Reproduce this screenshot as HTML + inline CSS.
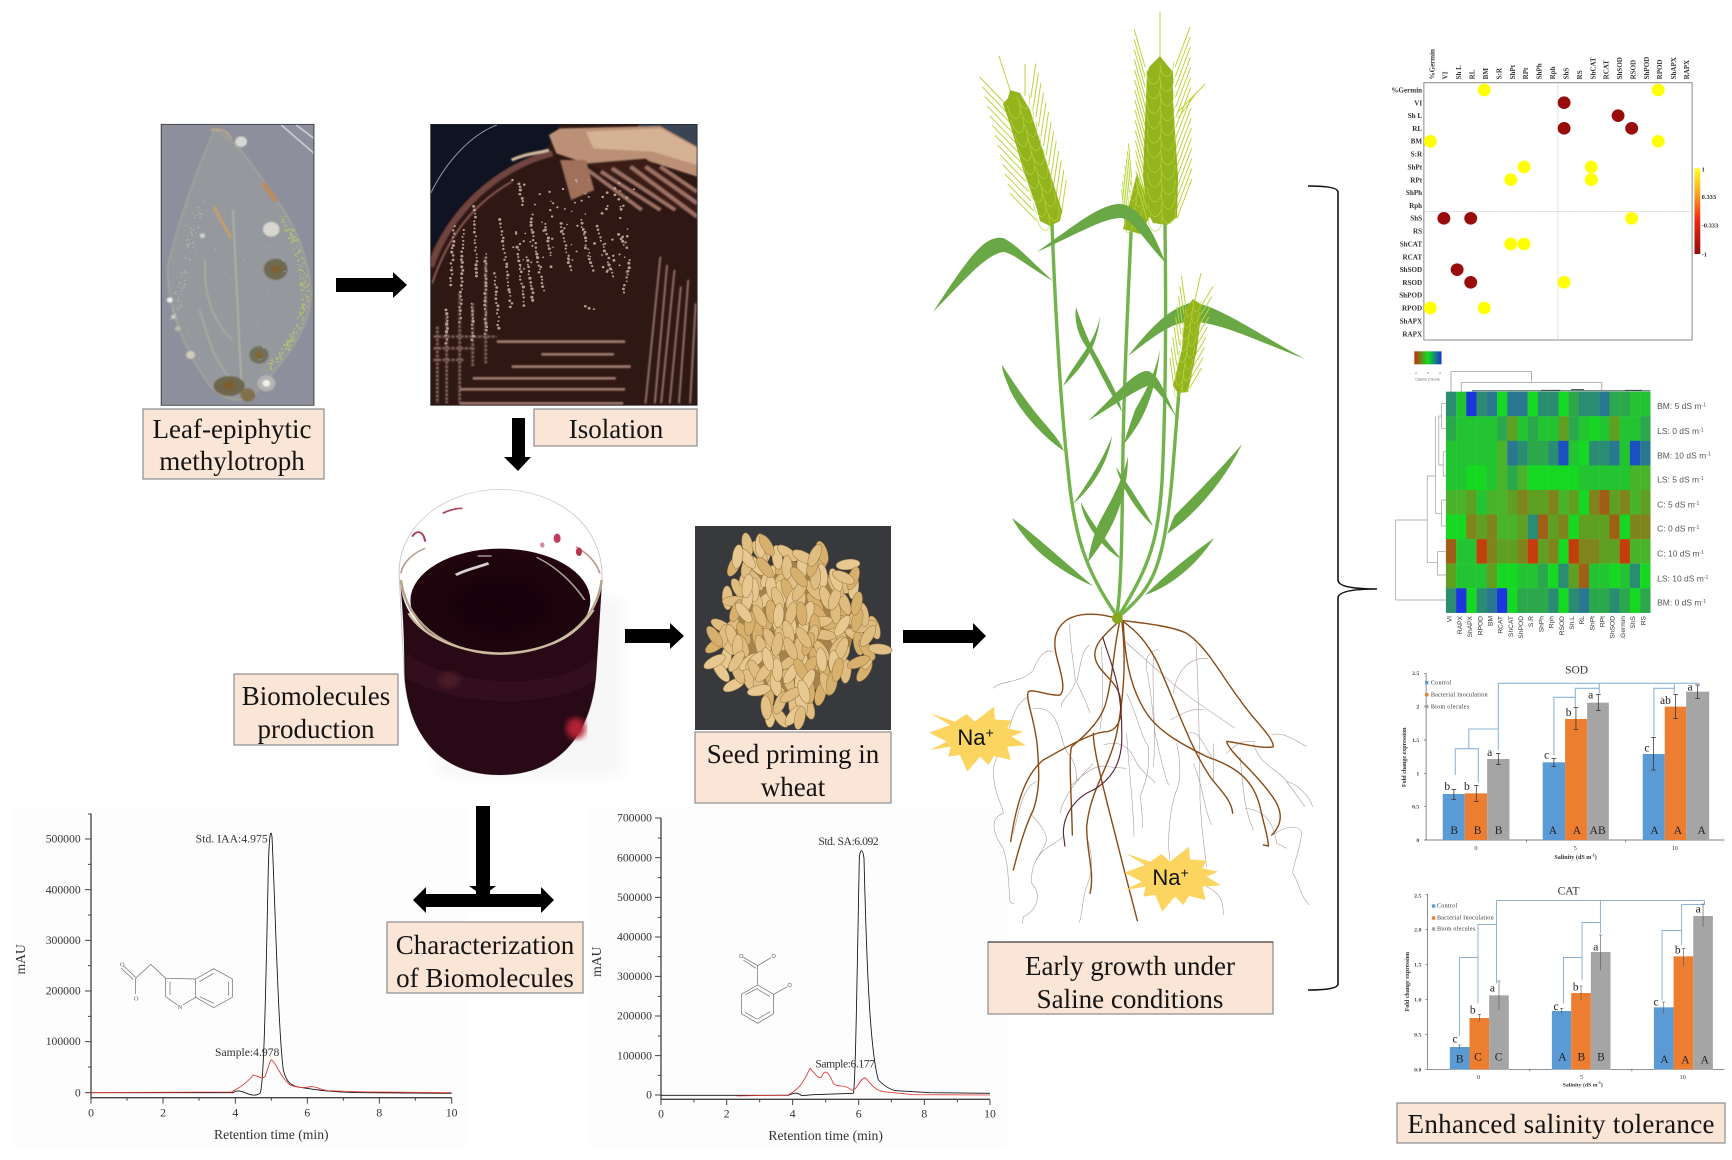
<!DOCTYPE html>
<html><head><meta charset="utf-8"><title>Biomolecules and salinity tolerance</title>
<style>
html,body{margin:0;padding:0;background:#fff;width:1732px;height:1160px;overflow:hidden}
svg{display:block;font-family:"Liberation Serif",serif}
.lb{fill:#fbe5d6;stroke:#8c8c8c;stroke-width:1.2}
.lt{font-size:27px;fill:#141414;text-anchor:middle}
.ax{font-size:35px;fill:#333}
.cr{font-size:21px;font-weight:bold;fill:#333;text-anchor:end}
.hb{font-family:"Liberation Sans",sans-serif;font-size:20px;fill:#333;text-anchor:end}
.hr{font-family:"Liberation Sans",sans-serif;font-size:25px;fill:#555}
.ul{font-size:34px;fill:#222}
.bl{font-size:34px;fill:#222;text-anchor:middle}
.tk{font-size:17px;font-weight:bold;fill:#444;text-anchor:end}
.lg{font-size:18px;fill:#333;letter-spacing:.8px}
.bd{font-size:18px;font-weight:bold;fill:#333;text-anchor:middle}
.na{font-family:"Liberation Sans",sans-serif;font-size:66px;fill:#111}
.th{fill:none;stroke:#a58f8f;stroke-width:1.6}
.tr{fill:none;stroke:#8a4a14;stroke-width:4.2;stroke-linecap:round}
.lf{fill:#69a845}
.st{fill:none;stroke:#73b34c;stroke-width:3.4;stroke-linecap:round}
.sm{fill:none;stroke:#6a6a6a;stroke-width:2}
</style></head><body>
<svg id="s" xmlns="http://www.w3.org/2000/svg" width="1732" height="1160" viewBox="0 0 1732 1160">
<defs>
<filter id="b1"><feGaussianBlur stdDeviation="2.4"/></filter>
<filter id="b0"><feGaussianBlur stdDeviation="1"/></filter>
<filter id="b2"><feGaussianBlur stdDeviation="8"/></filter>
<filter id="b3"><feGaussianBlur stdDeviation="20"/></filter>
<clipPath id="cl"><rect x="57" y="43" width="411" height="843"/></clipPath>
<clipPath id="cp"><rect x="782" y="43" width="717" height="843"/></clipPath>
<linearGradient id="cb" x1="0" y1="0" x2="0" y2="1"><stop offset="0" stop-color="#ffff20"/><stop offset=".3" stop-color="#ffa020"/><stop offset=".6" stop-color="#ee2a10"/><stop offset="1" stop-color="#8f0a0a"/></linearGradient>
<linearGradient id="ck"><stop offset="0" stop-color="#c82a10"/><stop offset=".5" stop-color="#10e020"/><stop offset="1" stop-color="#1a30d0"/></linearGradient>
<radialGradient id="liq" cx=".5" cy=".55" r=".6"><stop offset="0" stop-color="#16010a"/><stop offset=".8" stop-color="#1f040e"/><stop offset="1" stop-color="#2a0612"/></radialGradient>
<polygon id="star" fill="#fbd560" points="32,340 105,365 140,342 165,365 222,320 225,358 275,362 262,385 310,395 275,410 318,436 262,440 272,480 222,468 205,495 180,470 142,515 120,465 85,470 92,440 30,450 80,425 28,398 90,375"/>
</defs>

<!-- Chromatogram 1 -->
<g transform="translate(0,800) scale(.33333)">
<rect x="40" y="20" width="1360" height="1025" fill="#fdfdfd"/>
<path d="M273,40 V893 H1355" fill="none" stroke="#444" stroke-width="4"/>
<path d="M255,117 H273 M255,269 H273 M255,421 H273 M255,573 H273 M255,725 H273 M255,878 H273 M264,42 H273 M264,193 H273 M264,345 H273 M264,497 H273 M264,649 H273 M264,801 H273 M273,893 V911 M489,893 V911 M706,893 V911 M922,893 V911 M1138,893 V911 M1355,893 V911 M381,893 V902 M597,893 V902 M814,893 V902 M1030,893 V902 M1246,893 V902" stroke="#444" stroke-width="3" fill="none"/>
<g class="ax" text-anchor="end"><text x="242" y="128">500000</text><text x="242" y="280">400000</text><text x="242" y="432">300000</text><text x="242" y="584">200000</text><text x="242" y="735">100000</text><text x="242" y="889">0</text></g>
<g class="ax" text-anchor="middle"><text x="273" y="950">0</text><text x="489" y="950">2</text><text x="706" y="950">4</text><text x="922" y="950">6</text><text x="1138" y="950">8</text><text x="1355" y="950">10</text></g>
<text x="814" y="1017" font-size="41" fill="#333" text-anchor="middle">Retention time (min)</text>
<text transform="translate(75,478) rotate(-90)" font-size="41" fill="#333" text-anchor="middle">mAU</text>
<path d="M273,878 L700,878 C710,870 720,872 735,878 C750,884 765,890 780,880 C790,860 795,700 805,200 C808,100 812,85 816,110 C825,300 835,700 850,810 C860,850 875,858 900,862 C950,870 1000,878 1100,878 L1355,880" fill="none" stroke="#111" stroke-width="2.6"/>
<path d="M273,878 L695,876 C710,866 730,860 760,825 C770,825 785,840 795,830 C803,810 810,778 815,780 C830,790 840,830 870,855 C890,863 915,865 930,860 C950,858 960,870 985,872 L1100,876 L1355,878" fill="none" stroke="#e03838" stroke-width="2.6"/>
<text class="ax" x="587" y="128" textLength="216">Std. IAA:4.975</text>
<text class="ax" x="645" y="768" textLength="193">Sample:4.978</text>
<path class="sm" d="M370,497 L407,532 M363,504 L400,539 M407,535 V582 M407,535 L452,493 L497,535 V590 L532,615 M548,615 L587,592 V537 L497,535 M587,537 L641,506 L697,537 V592 L641,623 L587,592 M510,545 V585 M598,545 L641,520 M686,545 V587 M600,590 L641,610"/>
<text x="360" y="500" font-size="19" fill="#555">O</text><text x="402" y="602" font-size="19" fill="#555">O</text><text x="533" y="627" font-size="19" fill="#555">N</text>
</g>

<!-- Chromatogram 2 -->
<g transform="translate(580,800) scale(.33333)">
<rect x="30" y="20" width="1250" height="1025" fill="#fdfdfd"/>
<path d="M243,54 V898 H1230" fill="none" stroke="#444" stroke-width="4"/>
<path d="M225,54 H243 M225,173 H243 M225,292 H243 M225,411 H243 M225,529 H243 M225,648 H243 M225,767 H243 M225,885 H243 M234,114 H243 M234,233 H243 M234,352 H243 M234,470 H243 M234,589 H243 M234,708 H243 M234,826 H243 M243,898 V915 M440,898 V915 M638,898 V915 M836,898 V915 M1033,898 V915 M1230,898 V915 M342,898 V907 M539,898 V907 M737,898 V907 M934,898 V907 M1132,898 V907" stroke="#444" stroke-width="3" fill="none"/>
<g class="ax" text-anchor="end"><text x="216" y="65">700000</text><text x="216" y="184">600000</text><text x="216" y="303">500000</text><text x="216" y="422">400000</text><text x="216" y="540">300000</text><text x="216" y="659">200000</text><text x="216" y="778">100000</text><text x="216" y="896">0</text></g>
<g class="ax" text-anchor="middle"><text x="243" y="952">0</text><text x="440" y="952">2</text><text x="638" y="952">4</text><text x="836" y="952">6</text><text x="1033" y="952">8</text><text x="1230" y="952">10</text></g>
<text x="737" y="1020" font-size="41" fill="#333" text-anchor="middle">Retention time (min)</text>
<text transform="translate(63,485) rotate(-90)" font-size="41" fill="#333" text-anchor="middle">mAU</text>
<path d="M243,886 L625,886 C640,880 650,875 665,887 L700,884 L820,880 C826,860 830,600 838,170 C842,145 848,145 852,175 C860,500 870,750 895,840 C910,855 930,870 950,872 L1050,878 L1230,880" fill="none" stroke="#111" stroke-width="2.6"/>
<path d="M470,888 L625,885 C650,870 665,860 690,805 C705,820 715,840 725,830 C735,805 745,815 760,850 C775,865 790,850 815,870 C830,875 835,840 855,833 C870,845 880,870 910,875 L1000,884 L1230,885" fill="none" stroke="#e03838" stroke-width="2.6"/>
<text class="ax" x="715" y="135" textLength="181">Std. SA:6.092</text>
<text class="ax" x="706" y="802" textLength="179">Sample:6.177</text>
<path class="sm" d="M533,555 L581,583 V641 L533,670 L484,641 V583 Z M533,568 L570,590 M570,635 L533,657 M495,585 L533,565 M533,555 V497 M533,497 L490,472 M528,505 L490,480 M533,497 L573,473 M581,583 L622,560 M495,637 L530,657"/>
<g fill="none" stroke="#777" stroke-width="2"><circle cx="484" cy="468" r="5"/><circle cx="581" cy="468" r="5"/><circle cx="629" cy="555" r="5"/></g>
</g>

<!-- Leaf photo -->
<g transform="translate(140,110) scale(.3717,.3333)">
<g clip-path="url(#cl)">
<rect x="57" y="43" width="411" height="843" fill="#8d909c"/>
<path d="M380,45 L468,130 M420,45 L468,85" stroke="#c9ccd4" stroke-width="5" fill="none" filter="url(#b0)"/>
<g filter="url(#b1)">
<path d="M200,60 C270,90 340,230 380,290 C430,370 460,480 460,560 C450,680 380,760 310,850 C280,880 240,880 190,830 C130,740 70,600 75,470 C100,340 160,160 200,60Z" fill="#95989c" stroke="#a4a69e" stroke-width="4"/>
<path d="M250,300 L275,870" stroke="#b4b7a8" stroke-width="4"/>
<path d="M200,290 C210,320 230,350 245,385" stroke="#c49e68" stroke-width="8" fill="none"/>
<path d="M330,220 C345,240 360,260 365,275" stroke="#b98c62" stroke-width="14" fill="none"/>
<path d="M190,60 C210,55 235,60 245,85" stroke="#c0a880" stroke-width="6" fill="none"/>
<path d="M175,450 C170,560 200,640 250,690 M160,600 C180,660 190,740 240,800" stroke="#a8aca2" stroke-width="5" fill="none"/>
<circle cx="353" cy="358" r="22" fill="#d8d6ce"/><circle cx="272" cy="95" r="16" fill="#d8d8d2"/>
<circle cx="365" cy="478" r="32" fill="#6e6a52"/><circle cx="365" cy="478" r="13" fill="#80602f"/>
<circle cx="320" cy="735" r="26" fill="#71705c"/><circle cx="320" cy="735" r="12" fill="#80683a"/>
<ellipse cx="240" cy="828" rx="42" ry="30" fill="#6e664e"/><circle cx="240" cy="826" r="14" fill="#7e5f2c"/>
<ellipse cx="290" cy="855" rx="20" ry="20" fill="#80704c"/>
<circle cx="340" cy="820" r="24" fill="#b4b4b4"/><circle cx="340" cy="820" r="10" fill="#f2f2ea"/>
<circle cx="136" cy="735" r="12" fill="#d0ccbc"/><circle cx="80" cy="570" r="8" fill="#f0f0ea"/><circle cx="90" cy="620" r="6" fill="#e0e0d8"/><circle cx="102" cy="656" r="8" fill="#b6b9ae"/><circle cx="168" cy="377" r="7" fill="#d2d4ca"/>
</g>
<g id="lsp" filter="url(#b0)"></g>
</g>
<rect x="57" y="43" width="411" height="843" fill="none" stroke="#333" stroke-width="2.4"/>
</g>

<!-- Petri photo -->
<g transform="translate(140,110) scale(.3717,.3333)">
<g clip-path="url(#cp)">
<rect x="782" y="43" width="717" height="843" fill="#2f1814"/>
<path d="M782,43 H1130 L1090,125 C960,170 850,270 782,430 Z" fill="#0f1322"/>
<path d="M1499,43 H1340 V60 L1499,130 Z" fill="#3a4452"/>
<path d="M782,250 C830,140 900,70 960,45" fill="none" stroke="#8a93a5" stroke-width="3"/>
<g filter="url(#b1)">
<path d="M782,470 C830,310 960,170 1110,130" fill="none" stroke="#6f4440" stroke-width="18"/>
<path d="M786,520 C840,340 930,260 1000,215" fill="none" stroke="#8f5f58" stroke-width="5"/>
<path d="M1000,150 C1040,130 1070,130 1100,120" fill="none" stroke="#d8c0a0" stroke-width="9"/>
<polygon points="1100,75 1130,55 1400,48 1499,110 1499,200 1360,150 1200,160 1120,130" fill="#bb9077"/>
<polygon points="1200,65 1400,55 1499,115 1499,165 1380,125 1220,115" fill="#d6b294"/>
<polygon points="1130,150 1200,150 1222,240 1160,270" fill="#a0705a"/>
<polygon points="1200,160 1360,145 1499,250 1499,330 1400,260" fill="#3a1c14"/>
<path d="M1205,180 L1350,300 M1240,185 L1400,300 M1270,175 L1440,300 M1320,170 L1499,320 M1360,170 L1499,280 M1400,170 L1499,245" stroke="#9c6f64" stroke-width="11" fill="none"/>
<path d="M960,695 H1305 M1080,733 H1275 M1000,770 H1320 M895,805 H1280 M860,838 H1305 M860,880 H1300" stroke="#a07b70" stroke-width="8" fill="none"/>
<path d="M1400,440 L1360,880 M1418,465 L1385,880 M1438,480 L1402,880 M1455,530 L1425,880 M1475,510 L1450,880 M1495,580 L1480,880" stroke="#9a766a" stroke-width="5" fill="none"/>
<path d="M800,650 V880 M825,610 V880 M860,550 V880 M895,580 V770 M930,440 V760 M790,680 H960 M790,715 H900 M790,750 H870" stroke="#8a6a62" stroke-width="7" stroke-dasharray="8 4" fill="none"/>
</g>
<g id="col" filter="url(#b0)"></g>
</g>
<rect x="782" y="43" width="717" height="843" fill="none" stroke="#222" stroke-width="2"/>
</g>

<!-- Beaker -->
<g transform="translate(220,480) scale(.4367,.3333)">
<rect x="500" y="350" width="420" height="540" fill="#f7f6f6" filter="url(#b3)"/>
<path d="M410,280 C410,130 520,30 640,28 C770,30 875,130 875,290 L862,560 C860,720 800,885 640,885 C490,885 430,740 422,590 Z" fill="#fff" stroke="#c4c4c4" stroke-width="2"/>
<path d="M412,300 C425,470 420,560 424,610 C436,760 500,885 640,885 C790,885 855,740 862,570 L875,300 C860,460 760,520 640,522 C520,520 420,450 412,300Z" fill="#2a0916"/>
<ellipse cx="642" cy="362" rx="206" ry="156" fill="url(#liq)"/>
<path d="M414,300 C430,450 540,522 640,522 C750,522 860,450 874,300" fill="none" stroke="#b8a58c" stroke-width="6"/>
<path d="M432,400 C470,480 560,518 640,520 C730,518 810,480 855,390" fill="none" stroke="#cdbc9f" stroke-width="6"/>
<path d="M414,280 C420,240 450,215 470,205 M870,280 C860,240 835,215 815,200" fill="none" stroke="#b89a90" stroke-width="4"/>
<path d="M430,520 C520,620 780,640 862,530 L860,600 C760,690 520,680 425,590Z" fill="#3a1424" opacity=".6"/>
<path d="M725,232 C770,260 810,310 835,360" fill="none" stroke="#a9a0a0" stroke-width="4"/>
<path d="M540,285 C560,270 590,262 615,250" fill="none" stroke="#d9d0d0" stroke-width="8"/>
<path d="M590,228 H622" stroke="#aaa" stroke-width="4"/>
<path d="M510,100 C525,90 540,85 555,85 M440,170 C450,150 465,150 470,185" fill="none" stroke="#b04058" stroke-width="5"/>
<ellipse cx="772" cy="175" rx="8" ry="14" fill="#c03c58"/><ellipse cx="822" cy="215" rx="7" ry="13" fill="#b83850"/><ellipse cx="738" cy="195" rx="5" ry="8" fill="#d88a98"/>
<ellipse cx="815" cy="745" rx="22" ry="32" fill="#b32030" filter="url(#b2)"/>
<circle cx="525" cy="600" r="24" fill="#4a1a28" filter="url(#b2)"/>
</g>

<!-- Seeds -->
<rect x="695" y="526" width="196" height="204" fill="#37393d"/>
<ellipse cx="793" cy="628" rx="60" ry="66" fill="#a8824c"/>
<g id="seeds"></g>

<!-- Arrows -->
<g fill="#000">
<polygon points="336,278 393,278 393,272 407,285 393,298 393,292 336,292"/>
<polygon points="512,418 525,418 525,457 531,457 518,471 504,457 512,457"/>
<polygon points="625,629 670,629 670,623 684,636 670,649 670,643 625,643"/>
<polygon points="903,630 973,630 973,623 986,636 973,649 973,643 903,643"/>
<rect x="476" y="806" width="14" height="90"/>
<polygon points="469,886 496,886 483,896"/>
<polygon points="413,900 426,887 426,894 541,894 541,887 554,900 541,913 541,907 426,907 426,913"/>
</g>

<!-- Labels -->
<rect class="lb" x="143" y="409" width="181" height="70"/>
<text class="lt" x="232" y="438">Leaf-epiphytic</text><text class="lt" x="232" y="470">methylotroph</text>
<rect class="lb" x="534" y="409" width="163" height="37"/>
<text class="lt" x="616" y="438">Isolation</text>
<rect class="lb" x="234" y="674" width="164" height="71"/>
<text class="lt" x="316" y="705">Biomolecules</text><text class="lt" x="316" y="738">production</text>
<rect class="lb" x="695" y="732" width="196" height="71"/>
<text class="lt" x="793" y="763">Seed priming in</text><text class="lt" x="793" y="796">wheat</text>
<rect class="lb" x="387" y="922" width="196" height="71"/>
<text class="lt" x="485" y="954">Characterization</text><text class="lt" x="485" y="987">of Biomolecules</text>
<rect class="lb" x="988" y="942" width="285" height="72"/>
<path d="M988,942 H1273" stroke="#222" stroke-width="1"/>
<text class="lt" x="1130" y="975">Early growth under</text><text class="lt" x="1130" y="1008">Saline conditions</text>
<rect class="lb" x="1397" y="1103" width="328" height="40"/>
<text class="lt" x="1561" y="1133" textLength="307" lengthAdjust="spacing">Enhanced salinity tolerance</text>

<!-- Plant -->
<g id="spk0"></g>
<path class="st" d="M1131,233 C1128,300 1124,380 1123,450 C1122,520 1122,580 1117,616"/>
<path class="st" d="M1052,225 C1055,300 1060,400 1068,470 C1074,535 1085,570 1117,616"/>
<path class="st" d="M1165,225 C1166,300 1166,400 1162,482 C1158,540 1150,565 1120,614"/>
<path class="st" d="M1179,392 C1174,450 1172,490 1167,520 C1160,570 1150,590 1122,614"/>
<g class="lf">
<path d="M1053,281 C1030,260 1015,243 1003,238 C985,235 970,255 933,312 C965,280 985,255 1003,252 C1012,252 1030,268 1053,281Z"/>
<path d="M1128,356 C1145,335 1165,310 1190,303 C1210,300 1260,335 1305,359 C1260,342 1215,320 1190,322 C1170,322 1150,340 1128,356Z"/>
<path d="M1063,386 C1085,365 1098,345 1100,316 C1095,345 1075,360 1063,386Z"/>
<path d="M1122,412 C1105,385 1092,355 1085,345 C1078,335 1074,320 1076,307 C1082,325 1090,345 1098,358 C1108,378 1118,392 1122,412Z"/>
<path d="M1064,451 C1040,435 1015,405 1008,385 C1005,378 1002,370 1002,365 C1012,380 1025,400 1040,418 C1050,430 1060,440 1064,451Z"/>
<path d="M1177,418 C1165,395 1160,375 1148,371 C1135,370 1115,395 1088,421 C1110,408 1135,390 1150,385 C1158,390 1168,405 1177,418Z"/>
<path d="M1124,444 C1140,425 1155,400 1160,349 C1155,375 1145,392 1135,410 C1130,425 1126,435 1124,444Z"/>
<path d="M1073,504 C1090,490 1108,465 1112,436 C1105,455 1090,480 1073,504Z"/>
<path d="M1088,562 C1110,535 1128,500 1128,456 C1122,485 1105,510 1098,525 C1092,540 1090,550 1088,562Z"/>
<path d="M1116,467 C1122,490 1140,515 1153,526 C1142,505 1130,488 1116,467Z"/>
<path d="M1081,502 C1083,525 1105,550 1121,559 C1107,540 1092,525 1081,502Z"/>
<path d="M1093,586 C1060,572 1028,548 1012,518 C1035,535 1060,558 1093,586Z"/>
<path d="M1167,534 C1195,515 1225,480 1242,444 C1220,470 1190,500 1175,515 C1172,520 1170,528 1167,534Z"/>
<path d="M1145,595 C1175,585 1200,560 1214,538 C1190,555 1165,575 1145,595Z"/>
</g>
<g id="spk1"></g>
<path class="lf" d="M1165,262 C1155,235 1140,205 1120,204 C1100,204 1075,225 1037,252 C1075,235 1105,217 1122,218 C1135,222 1150,248 1165,262Z"/>
<g id="spk2"></g>
<!-- Roots -->
<g transform="translate(920,600) scale(.33333)">
<path class="th" d="M220,265 C240,240 310,250 340,210 C355,170 375,145 400,155 M450,70 C445,120 470,230 465,250 C450,290 420,300 425,320 M510,135 C480,150 480,220 470,245 C490,290 505,320 510,340 M545,140 C545,200 555,280 540,390 M325,290 C290,310 280,340 270,380 C240,450 220,490 220,510 C220,580 250,620 250,640 C220,650 210,680 240,730 C265,760 265,850 270,905 L282,912 M340,325 C400,320 410,360 430,430 C440,470 470,470 470,540 M350,545 C310,560 300,620 280,700 M330,640 C360,670 380,700 380,720 C370,760 330,780 335,850 C365,880 355,930 310,950 L307,972 M430,710 C400,735 370,745 355,770 M500,710 C520,770 520,810 500,860 C485,900 490,930 478,968 M610,120 C680,180 760,260 850,320 L945,385 M828,130 C835,250 840,500 840,600 C845,700 855,760 860,800 M715,148 C680,155 675,180 680,210 C700,300 700,400 710,420 C720,470 740,550 748,556 M700,170 C695,300 710,390 700,500 M620,280 C650,340 660,400 685,440 C690,500 680,540 660,590 C670,640 665,670 668,685 M620,400 C625,500 640,600 642,710 M550,435 C600,420 630,440 650,490 C670,520 690,530 705,548 M450,560 C490,520 530,490 560,500 L620,505 M420,640 C430,590 470,540 520,490 M760,280 C770,210 810,170 865,175 M750,360 C790,340 810,325 850,328 M770,430 C785,500 780,550 770,570 C750,620 740,720 750,780 M800,400 C840,390 840,420 875,470 M880,430 V540 M1055,405 C1080,395 1110,410 1160,440 M1000,430 C1020,500 1080,510 1100,545 C1130,550 1170,590 1178,620 M920,460 C950,430 970,420 1005,425 M960,470 C970,560 970,620 1000,690 M975,625 C1030,630 1060,660 1070,730 L1100,745 M1060,705 C1090,680 1140,670 1145,700 C1140,750 1120,790 1118,820 C1140,850 1135,880 1168,915 M860,860 C900,880 910,900 910,945 M820,490 C850,560 850,620 875,675 M1100,545 L1155,620"/>
<path class="tr" d="M590,55 C540,40 480,35 440,60 C400,90 400,130 410,170 C420,210 440,270 420,285 C390,290 340,265 325,275 C315,295 345,360 352,440 C358,520 360,570 340,630 C315,680 295,750 280,810"/>
<path class="tr" d="M590,70 C560,100 520,130 525,170 C530,215 590,240 600,290 C610,340 600,390 560,395 C520,395 440,440 370,480 C320,520 290,600 272,725"/>
<path class="tr" d="M600,60 C580,150 580,220 560,300 C550,350 510,395 455,440 C445,470 455,600 457,705"/>
<path class="tr" d="M605,60 C620,180 610,300 590,400 C570,500 510,570 500,680 C500,760 525,820 510,880"/>
<path class="tr" d="M610,70 C615,200 640,280 680,340 C720,400 800,440 860,470 C950,500 1000,540 1020,620 C1030,670 1045,710 1045,738 L1030,735"/>
<path class="tr" d="M610,65 C660,100 700,150 730,230 C770,320 810,440 870,530 C900,570 935,600 938,640"/>
<path class="tr" d="M610,62 C680,70 760,80 800,100 C860,140 900,220 960,300 C1000,360 1060,410 1060,440 C1030,450 920,420 920,425 C930,460 1000,510 1050,580 C1090,630 1090,670 1055,705"/>
<path class="tr" d="M520,400 C520,460 560,600 610,800 L652,962"/>
<path d="M548,110 C570,190 610,250 605,430 C600,500 570,540 520,570 C470,590 430,640 430,700 L435,740" fill="none" stroke="#5a2030" stroke-width="3.4"/>
<circle cx="592" cy="55" r="16" fill="#86a81c"/>
<use href="#star"/><use href="#star" x="585" y="420"/>
<text class="na" x="112" y="435">Na</text><text class="na" x="197" y="412" style="font-size:42px">+</text>
<text class="na" x="697" y="855">Na</text><text class="na" x="782" y="832" style="font-size:42px">+</text>
</g>
<!-- Brace -->
<path d="M1308,186 Q1338,186 1338,192 L1338,580 Q1338,589 1377,589 Q1338,589 1338,598 L1338,984 Q1338,990 1308,990" fill="none" stroke="#111" stroke-width="1.6"/>

<!-- Correlation plot -->
<g transform="translate(1360,30) scale(.3396,.33333)">
<rect x="188" y="158" width="790" height="772" fill="#fff" stroke="#999" stroke-width="3.4"/>
<path d="M583,158 V930 M188,545 H978" stroke="#bbb" stroke-width="2" stroke-dasharray="3 2"/>
<g fill="#ffff00"><circle cx="366" cy="180" r="19"/><circle cx="878" cy="180" r="19"/><circle cx="207" cy="334" r="19"/><circle cx="878" cy="334" r="19"/><circle cx="483" cy="411" r="19"/><circle cx="681" cy="411" r="19"/><circle cx="444" cy="449" r="19"/><circle cx="681" cy="449" r="19"/><circle cx="800" cy="565" r="19"/><circle cx="444" cy="642" r="19"/><circle cx="483" cy="642" r="19"/><circle cx="601" cy="757" r="19"/><circle cx="207" cy="834" r="19"/><circle cx="366" cy="834" r="19"/></g>
<g fill="#990c0c"><circle cx="601" cy="218" r="19"/><circle cx="760" cy="257" r="19"/><circle cx="601" cy="295" r="19"/><circle cx="800" cy="295" r="19"/><circle cx="247" cy="565" r="19"/><circle cx="326" cy="565" r="19"/><circle cx="286" cy="719" r="19"/><circle cx="326" cy="757" r="19"/></g>
<g class="cr"><text x="183" y="187">%Germin</text><text x="183" y="226">VI</text><text x="183" y="264">Sh L</text><text x="183" y="303">RL</text><text x="183" y="341">BM</text><text x="183" y="380">S:R</text><text x="183" y="418">ShPt</text><text x="183" y="457">RPt</text><text x="183" y="495">ShPh</text><text x="183" y="534">Rph</text><text x="183" y="572">ShS</text><text x="183" y="611">RS</text><text x="183" y="649">ShCAT</text><text x="183" y="688">RCAT</text><text x="183" y="726">ShSOD</text><text x="183" y="765">RSOD</text><text x="183" y="803">ShPOD</text><text x="183" y="842">RPOD</text><text x="183" y="880">ShAPX</text><text x="183" y="919">RAPX</text></g>
<g class="cr" style="text-anchor:start">
<text transform="translate(219,148) rotate(-90)">%Germin</text><text transform="translate(258,148) rotate(-90)">VI</text><text transform="translate(298,148) rotate(-90)">Sh L</text><text transform="translate(337,148) rotate(-90)">RL</text><text transform="translate(377,148) rotate(-90)">BM</text><text transform="translate(416,148) rotate(-90)">S:R</text><text transform="translate(456,148) rotate(-90)">ShPt</text><text transform="translate(495,148) rotate(-90)">RPt</text><text transform="translate(535,148) rotate(-90)">ShPh</text><text transform="translate(574,148) rotate(-90)">Rph</text><text transform="translate(614,148) rotate(-90)">ShS</text><text transform="translate(653,148) rotate(-90)">RS</text><text transform="translate(693,148) rotate(-90)">ShCAT</text><text transform="translate(732,148) rotate(-90)">RCAT</text><text transform="translate(772,148) rotate(-90)">ShSOD</text><text transform="translate(811,148) rotate(-90)">RSOD</text><text transform="translate(851,148) rotate(-90)">ShPOD</text><text transform="translate(890,148) rotate(-90)">RPOD</text><text transform="translate(930,148) rotate(-90)">ShAPX</text><text transform="translate(969,148) rotate(-90)">RAPX</text>
</g>
<rect x="985" y="415" width="17" height="257" fill="url(#cb)"/>
<g font-size="19" font-weight="bold" fill="#333"><text x="1006" y="424">1</text><text x="1006" y="507">0.333</text><text x="1006" y="593">-0.333</text><text x="1006" y="680">-1</text></g>
</g>

<!-- Heatmap -->
<g transform="translate(1360,340) scale(.3396,.33333)">
<rect x="160" y="34" width="80" height="39" fill="url(#ck)"/>
<text x="199" y="102" font-family="Liberation Sans" font-size="9" fill="#555" text-anchor="middle" letter-spacing="14">-2 0 2</text>
<text x="199" y="121" font-family="Liberation Sans" font-size="10" fill="#555" text-anchor="middle">Column Z-Score</text>
<path d="M268,155 V95 H505 V125 M298,155 V128 H712 V155" fill="none" stroke="#888" stroke-width="2"/>
<path d="M330,152 H855" stroke="#708a80" stroke-width="4"/>
<path d="M533,151 H590 M622,149 H660 M780,151 H830" stroke="#344" stroke-width="3"/>
<g id="hm" filter="url(#b0)"></g>
<path d="M105,780 H253 M105,780 V540 H198 M198,408 V668 H228 M198,408 H222 M222,228 V520 H240 M228,635 V705 H253 M228,635 H253 M240,480 V558 H253 M240,480 H253 M232,228 V375 H245 M232,228 H240 M240,190 V265 H253 M240,190 H253 M245,335 V408 H253 M245,335 H253" fill="none" stroke="#999" stroke-width="2"/>
<g class="hr"><text x="875" y="207">BM: 5 dS m<tspan dy="-8" font-size="15">-1</tspan></text><text x="875" y="282">LS: 0 dS m<tspan dy="-8" font-size="15">-1</tspan></text><text x="875" y="355">BM: 10 dS m<tspan dy="-8" font-size="15">-1</tspan></text><text x="875" y="428">LS: 5 dS m<tspan dy="-8" font-size="15">-1</tspan></text><text x="875" y="503">C: 5 dS m<tspan dy="-8" font-size="15">-1</tspan></text><text x="875" y="575">C: 0 dS m<tspan dy="-8" font-size="15">-1</tspan></text><text x="875" y="650">C: 10 dS m<tspan dy="-8" font-size="15">-1</tspan></text><text x="875" y="725">LS: 10 dS m<tspan dy="-8" font-size="15">-1</tspan></text><text x="875" y="797">BM: 0 dS m<tspan dy="-8" font-size="15">-1</tspan></text></g>
<g class="hb">
<text transform="translate(270,828) rotate(-90)">VI</text><text transform="translate(300,828) rotate(-90)">RAPX</text><text transform="translate(330,828) rotate(-90)">ShAPX</text><text transform="translate(360,828) rotate(-90)">RPOD</text><text transform="translate(390,828) rotate(-90)">BM</text><text transform="translate(420,828) rotate(-90)">RCAT</text><text transform="translate(450,828) rotate(-90)">ShCAT</text><text transform="translate(480,828) rotate(-90)">ShPOD</text><text transform="translate(510,828) rotate(-90)">S.R</text><text transform="translate(540,828) rotate(-90)">ShPh</text><text transform="translate(570,828) rotate(-90)">Rph</text><text transform="translate(600,828) rotate(-90)">RSOD</text><text transform="translate(630,828) rotate(-90)">Sh.L</text><text transform="translate(660,828) rotate(-90)">RL</text><text transform="translate(690,828) rotate(-90)">ShPt</text><text transform="translate(720,828) rotate(-90)">RPt</text><text transform="translate(750,828) rotate(-90)">ShSOD</text><text transform="translate(780,828) rotate(-90)">.Germin</text><text transform="translate(810,828) rotate(-90)">ShS</text><text transform="translate(840,828) rotate(-90)">RS</text>
</g>
</g>

<!-- SOD -->
<g transform="translate(1380,660) scale(.339,.33333)">
<path d="M136,40 V540 H1016 M130,40 H136 M130,140 H136 M130,240 H136 M130,340 H136 M130,440 H136 M130,540 H136 M432,540 V547 M725,540 V547" fill="none" stroke="#555" stroke-width="2"/>
<g fill="#5b9bd5"><rect x="185" y="402" width="65" height="138"/><rect x="480" y="307" width="66" height="233"/><rect x="775" y="282" width="65" height="258"/><rect x="133" y="63" width="10" height="10"/></g>
<g fill="#ed7d31"><rect x="250" y="400" width="66" height="140"/><rect x="546" y="177" width="65" height="363"/><rect x="840" y="140" width="63" height="400"/><rect x="133" y="99" width="10" height="10"/></g>
<g fill="#a5a5a5"><rect x="316" y="297" width="66" height="243"/><rect x="611" y="128" width="64" height="412"/><rect x="903" y="95" width="68" height="445"/><rect x="133" y="135" width="10" height="10"/></g>
<path d="M222,345 V266 H290 V368 M262,266 V207 H349 V270 M349,207 V70 H942 M513,285 V112 H576 M576,143 V85 H647 M647,70 V100 M808,230 V85 H868 M868,100 V72" fill="none" stroke="#8db4dc" stroke-width="3.2"/>
<path d="M218,388 V418 M211,388 H225 M211,418 H225 M284,376 V424 M277,376 H291 M277,424 H291 M349,280 V314 M342,280 H356 M342,314 H356 M513,295 V320 M506,295 H520 M506,320 H520 M578,143 V208 M571,143 H585 M571,208 H585 M644,103 V152 M637,103 H651 M637,152 H651 M807,232 V330 M800,232 H814 M800,330 H814 M872,103 V176 M865,103 H879 M865,176 H879 M937,75 V116 M930,75 H944 M930,116 H944" stroke="#333" stroke-width="2.2" fill="none"/>
<g class="tk"><text x="116" y="45">2.5</text><text x="116" y="146">2</text><text x="116" y="246">1.5</text><text x="116" y="346">1</text><text x="116" y="446">0.5</text><text x="116" y="546">0</text></g>
<g class="ul"><text x="190" y="390">b</text><text x="248" y="390">b</text><text x="316" y="288">a</text><text x="484" y="296">c</text><text x="548" y="168">b</text><text x="614" y="116">a</text><text x="780" y="275">c</text><text x="826" y="132">ab</text><text x="907" y="92">a</text></g>
<g class="bl"><text x="219" y="522">B</text><text x="288" y="522">B</text><text x="350" y="522">B</text><text x="510" y="522">A</text><text x="581" y="522">A</text><text x="642" y="522">AB</text><text x="810" y="522">A</text><text x="879" y="522">A</text><text x="949" y="522">A</text></g>
<text x="580" y="40" font-size="34" fill="#333" text-anchor="middle">SOD</text>
<text class="lg" x="150" y="74">Control</text><text class="lg" x="150" y="110">Bacterial Inoculation</text><text class="lg" x="150" y="146">Biom olecules</text>
<g class="bd" style="font-weight:normal"><text x="283" y="570">0</text><text x="576" y="570">5</text><text x="870" y="570">10</text></g>
<text class="bd" x="577" y="597">Salinity (dS m<tspan dy="-7" font-size="12">-1</tspan><tspan dy="7">)</tspan></text>
<text class="bd" transform="translate(76,292) rotate(-90)">Fold change expression</text>
</g>

<!-- CAT -->
<g transform="translate(1380,880) scale(.339,.33333)">
<path d="M140,43 V568 H1016 M134,43 H140 M134,148 H140 M134,253 H140 M134,358 H140 M134,463 H140 M134,568 H140 M442,568 V574 M743,568 V574" fill="none" stroke="#555" stroke-width="2"/>
<g fill="#5b9bd5"><rect x="206" y="501" width="58" height="67"/><rect x="507" y="393" width="57" height="175"/><rect x="808" y="382" width="58" height="186"/><rect x="153" y="73" width="10" height="10"/></g>
<g fill="#ed7d31"><rect x="264" y="414" width="58" height="154"/><rect x="564" y="339" width="58" height="229"/><rect x="866" y="229" width="58" height="339"/><rect x="153" y="109" width="10" height="10"/></g>
<g fill="#a5a5a5"><rect x="322" y="346" width="58" height="222"/><rect x="622" y="216" width="58" height="352"/><rect x="924" y="108" width="58" height="460"/><rect x="153" y="142" width="10" height="10"/></g>
<path d="M235,470 V232 H289 M289,370 V133 H344 M344,310 V62 H957 V75 M541,370 V232 H596 M596,300 V127 H650 M650,160 V62 M832,360 V151 H890 M890,195 V74 H957" fill="none" stroke="#6d99c7" stroke-width="2.2"/>
<path d="M235,495 V507 M293,403 V425 M351,303 V390 M536,385 V401 M593,318 V360 M651,165 V271 M837,366 V400 M895,205 V258 M953,72 V140 M230,495 H240 M288,403 H298 M346,303 H356 M531,385 H541 M588,318 H598 M646,165 H656 M832,366 H842 M890,205 H900 M948,72 H958" stroke="#555" stroke-width="1.8" fill="none"/>
<g class="tk"><text x="122" y="52">2.5</text><text x="122" y="155">2.0</text><text x="122" y="260">1.5</text><text x="122" y="365">1.0</text><text x="122" y="470">0.5</text><text x="122" y="575">0.0</text></g>
<g class="ul"><text x="214" y="487">c</text><text x="265" y="400">b</text><text x="324" y="335">a</text><text x="512" y="390">c</text><text x="569" y="332">b</text><text x="629" y="211">a</text><text x="807" y="376">c</text><text x="870" y="220">b</text><text x="931" y="97">a</text></g>
<g class="bl"><text x="235" y="547">B</text><text x="289" y="541">C</text><text x="350" y="541">C</text><text x="538" y="541">A</text><text x="594" y="541">B</text><text x="652" y="541">B</text><text x="839" y="549">A</text><text x="901" y="550">A</text><text x="958" y="550">A</text></g>
<text x="556" y="43" font-size="34" fill="#333" text-anchor="middle">CAT</text>
<text class="lg" x="168" y="83">Control</text><text class="lg" x="168" y="119">Bacterial Inoculation</text><text class="lg" x="168" y="152">Biom olecules</text>
<g class="bd" style="font-weight:normal"><text x="291" y="597">0</text><text x="595" y="597">5</text><text x="893" y="597">10</text></g>
<text class="bd" x="598" y="619" style="font-size:17px">Salinity (dS m<tspan dy="-7" font-size="12">-1</tspan><tspan dy="7">)</tspan></text>
<text class="bd" transform="translate(85,305) rotate(-90)">Fold change expression</text>
</g>
</svg>
<script>
(function(){
var NS="http://www.w3.org/2000/svg";
function el(p,n,a){var e=document.createElementNS(NS,n);for(var k in a)e.setAttribute(k,a[k]);p.appendChild(e);return e;}
var seed=12345;function R(){seed=(seed*1664525+1013904223)%4294967296;return seed/4294967296;}
/* heatmap */
var C={a:"#14d822",g:"#22c430",m:"#2aa84c",t:"#2a8c70",b:"#2a7890",B:"#1a34dc",D:"#1c50c0",o:"#5e9f22",O:"#80841a",r:"#a05e12",R:"#c43e0e",L:"#48b42a"};
var M=["tgBtbabbattamttbmmgg","mggggmogmggomgagoggm","gggggLbtmmtDgattbgDb","ggaagLmLaaaaagggggLL","LLogLLoOooOLoaOroOLo","aaOoOLLotroOaoooraOO","rggROooORoOaROOooRLL","ogggoaaggmatorggagta","tBatbBammmtatbmmtmam"];
var hm=document.getElementById("hm");
for(var r=0;r<9;r++)for(var c=0;c<20;c++)el(hm,"rect",{x:253+c*30.1,y:155+r*73.7,width:30.6,height:74.2,fill:C[M[r][c]]});
/* seeds: jittered grid, thinning toward an irregular edge */
var sg=document.getElementById("seeds"),s=[];
for(var yy=532;yy<726;yy+=11.5)for(var xx=702;xx<886;xx+=11){
 var x=xx+(R()-.5)*8,y=yy+(R()-.5)*8,nx=(x-793)/88,ny=(y-628)/94;
 var th=Math.atan2(ny,nx),lim=.92+.09*Math.sin(th*5)+.06*Math.cos(th*3),q=nx*nx+ny*ny;
 if(q<lim*lim&&(q<.55||R()>(q-.55)*1.1))s.push([x,y,R()]);
}
s.sort(function(p,q){return p[2]-q[2]});
s.forEach(function(p){
 var ang=-90+(R()-.5)*(R()<.2?200:80),col=["#dfbc80","#e6c890","#d7b06e","#e2c086"][Math.floor(R()*4)];
 el(sg,"ellipse",{cx:p[0],cy:p[1],rx:12,ry:5.2,fill:col,stroke:"#97763f","stroke-width":.5,transform:"rotate("+ang+" "+p[0]+" "+p[1]+")"});
});
/* petri colonies */
var cg=document.getElementById("col");
var L=[[970,330,1000,600],[1050,325,1085,545],[1015,410,1035,590],[1040,440,1060,580],[955,490,965,660],[1018,220,1030,290],[1090,340,1105,440],[1130,340,1160,480],[1185,330,1220,490],[1230,350,1275,500],[1290,375,1310,420],[900,290,905,500],[870,360,860,640],[845,350,835,530],[1200,590,1230,600],[825,600,825,700],[930,430,930,680],[895,580,895,700],[1320,450,1300,550]];
L.forEach(function(l){var n=Math.hypot(l[2]-l[0],l[3]-l[1])/11;
 for(var i=0;i<n;i++){var t=i/n;el(cg,"circle",{cx:l[0]+(l[2]-l[0])*t+(R()-.5)*6,cy:l[1]+(l[3]-l[1])*t+(R()-.5)*4,r:2.5+R()*2,fill:"#b5998c"});}
});
for(var i=0;i<90;i++)el(cg,"circle",{cx:1000+R()*330,cy:210+R()*280,r:2+R()*2,fill:"#b8a094"});
/* leaf speckle along the right margin */
var lg=document.getElementById("lsp");
var E=[[395,320],[430,400],[452,500],[456,570],[438,650],[400,720],[352,782]];
for(var i=0;i<220;i++){var u=R()*(E.length-1),k=Math.floor(u),f=u-k;
 var ex=E[k][0]+(E[k+1][0]-E[k][0])*f-R()*22,ey=E[k][1]+(E[k+1][1]-E[k][1])*f+(R()-.5)*8;
 el(lg,"circle",{cx:ex,cy:ey,r:1.5+R()*2,fill:R()<.65?"#b6bd74":"#a9ad8a"});}
for(var i=0;i<70;i++){var t=R();el(lg,"circle",{cx:90+t*70+(R()-.5)*24,cy:640-t*360+(R()-.5)*24,r:1.5+R()*1.5,fill:"#adb0a8"});}
for(var i=0;i<50;i++){el(lg,"circle",{cx:110+R()*290,cy:250+R()*560,r:1+R()*1.6,fill:"#a8aba4"});}
/* spikes */
function spike(g,poly,ax,w,Lf,Rr,n,tops,cells){
 g=document.getElementById(g);
 var dx=ax[2]-ax[0],dy=ax[3]-ax[1],ln=Math.hypot(dx,dy),ux=dx/ln,uy=dy/ln;
 var d="";
 for(var i=0;i<n;i++){var t=(i+.5)/n,px=ax[0]+dx*t,py=ax[1]+dy*t;
  d+="M"+(px-uy*w).toFixed(1)+","+(py+ux*w).toFixed(1)+"l"+Lf[0]+","+Lf[1];
  d+="M"+(px+uy*w).toFixed(1)+","+(py-ux*w).toFixed(1)+"l"+Rr[0]+","+Rr[1];
 }
 tops.forEach(function(q){d+="M"+q.join(" ")});
 el(g,"path",{d:d,fill:"none",stroke:"#b8d63c","stroke-width":1});
 el(g,"polygon",{points:poly,fill:"#94b41e"});
 var c="";
 for(var j=0;j<cells;j++){for(var k=-1;k<=1;k+=2){
  var t2=(j+.5)/cells+(k>0?.5/cells:0);if(t2>1)continue;
  var px2=ax[0]+dx*t2+(-uy)*k*w*.45,py2=ax[1]+dy*t2+ux*k*w*.45;
  var h=ln/cells*.5,hw=w*.46;
  c+="M"+(px2+uy*hw-ux*h).toFixed(1)+","+(py2-ux*hw-uy*h).toFixed(1)+"Q"+(px2+uy*hw+ux*h*.8).toFixed(1)+","+(py2-ux*hw+uy*h*.8).toFixed(1)+" "+(px2+ux*h).toFixed(1)+","+(py2+uy*h).toFixed(1)+"Q"+(px2-uy*hw+ux*h*.8).toFixed(1)+","+(py2+ux*hw+uy*h*.8).toFixed(1)+" "+(px2-uy*hw-ux*h).toFixed(1)+","+(py2+ux*hw-uy*h).toFixed(1);
 }}
 el(g,"path",{d:c,fill:"none",stroke:"#b9d741","stroke-width":.7,opacity:.85});
}
spike("spk0","1137,173 1123,229 1140,234 1152,213",[1140,175,1132,228],8,[-3,-34],[4,-34],7,[],5);
spike("spk1","1010,90 1020,93 1030,110 1045,157 1062,211 1060,221 1050,226 1040,221 1037,209 1023,169 1010,124 1003,104 1008,98",[1017,96,1050,222],13,[-26,-27],[5,-34],13,[[999,56,"L",1010,90],[1025,64,"L",1025,96]],9);
spike("spk1","1160,56 1168,66 1173,72 1173,100 1178,177 1177,217 1167,225 1153,223 1148,213 1143,177 1147,72 1150,66",[1160,62,1162,224],15,[-11,-38],[15,-40],16,[[1160,12,"L",1160,58],[1205,84,"L",1178,112],[1195,95,"L",1178,118]],11);
spike("spk2","1193,299 1202,305 1197,349 1188,392 1178,393 1173,386 1182,349 1185,309",[1194,300,1181,392],8,[-4,-28],[12,-20],9,[[1201,273,"L",1195,300]],8);
})();
</script>
</body></html>
